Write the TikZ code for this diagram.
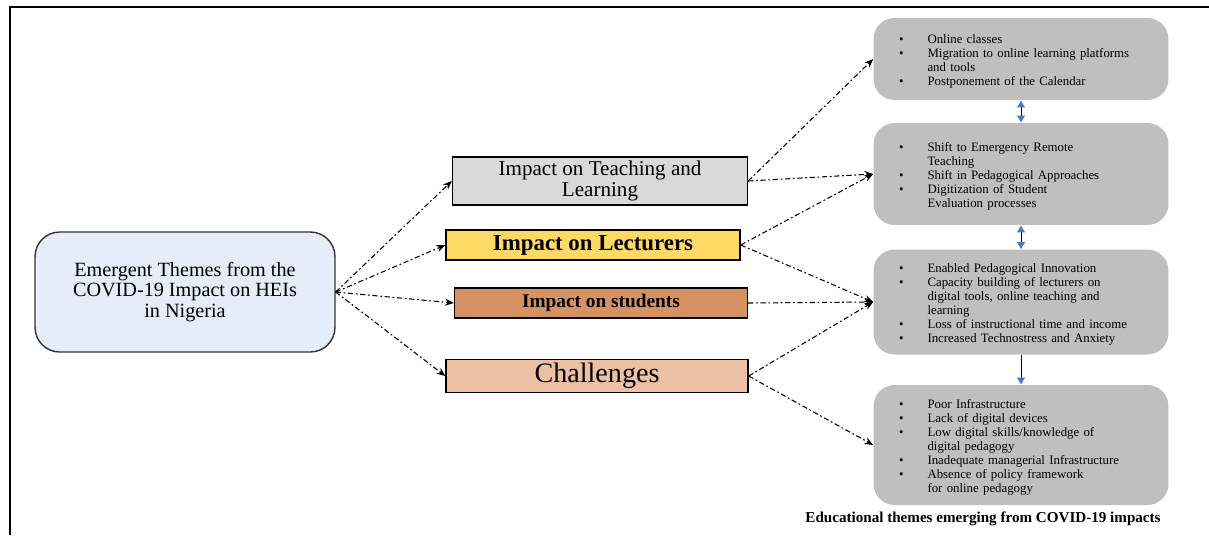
\documentclass[tikz,border=0pt]{standalone}
\usepackage{fontspec}
\setmainfont{Liberation Serif}
\usetikzlibrary{arrows.meta}
\definecolor{themeblue}{RGB}{229,237,248}
\definecolor{teachgrey}{RGB}{217,217,217}
\definecolor{lectyellow}{RGB}{255,217,102}
\definecolor{studbrown}{RGB}{214,146,98}
\definecolor{challpeach}{RGB}{236,193,163}
\definecolor{panelgrey}{RGB}{191,191,191}
\definecolor{tipblue}{RGB}{70,120,210}
\newcommand{\panelitems}[1]{\begin{list}{\textbullet}{\setlength{\leftmargin}{0.68cm}\setlength{\labelwidth}{0.2cm}\setlength{\labelsep}{0.48cm}\setlength{\itemsep}{0pt}\setlength{\parsep}{0pt}\setlength{\topsep}{0pt}\setlength{\partopsep}{0pt}}#1\end{list}}
\tikzset{
% Node styles: the theme box, the four bars and the grey panels
theme node/.style={draw=black!80,line width=0.8pt,rounded corners=14pt,fill=themeblue,minimum width=6cm,minimum height=2.4cm,align=center,font=\fontsize{11.5}{11.5}\selectfont},
bar node/.style={draw=black,line width=0.8pt,align=center,inner sep=1pt},
panel node/.style={rounded corners=12pt,fill=panelgrey,text width=5.1cm,inner xsep=0.4cm,align=left,font=\fontsize{7.3}{7.9}\selectfont},
% Connector styles: dashed links and short panel arrows
dash link/.style={line width=0.6pt,dash pattern=on 3pt off 1.5pt on 1pt off 1.5pt,-{Stealth[length=5pt,width=4pt]}},
panel tip/.tip={Latex[length=4pt,width=5pt,color=tipblue]},
panel link/.style={line width=0.5pt}
}
\begin{document}
\begin{tikzpicture}[x=0.02cm,y=-0.02cm]
\useasboundingbox (0,0) rectangle (1209,535);
\draw[line width=1pt] (10,535) -- (10,7) -- (1209,7);
% The theme box
\node(0)[theme node] at (185,292) {Emergent Themes from the\\COVID-19 Impact on HEIs\\in Nigeria};
% The four bars
\node(1)[bar node,fill=teachgrey,minimum width=5.9cm,minimum height=0.96cm,font=\fontsize{12}{11.5}\selectfont] at (600,181) {Impact on Teaching and\\Learning};
\node(2)[bar node,fill=lectyellow,minimum width=5.88cm,minimum height=0.6cm,font=\bfseries\fontsize{13}{14}\selectfont] at (593,245) {Impact on Lecturers};
\node(3)[bar node,fill=studbrown,minimum width=5.86cm,minimum height=0.6cm,font=\bfseries\fontsize{11}{12}\selectfont] at (601,303) {Impact on students};
\node(4)[bar node,fill=challpeach,minimum width=6.04cm,minimum height=0.66cm,font=\fontsize{16}{17}\selectfont] at (597,376) {Challenges};
% The grey panels
\node(5)[panel node,minimum height=1.64cm] at (1021,59) {\panelitems{
\item Online classes
\item Migration to online learning platforms\\and tools
\item Postponement of the Calendar}};
\node(6)[panel node,minimum height=2.04cm] at (1021,174) {\panelitems{
\item Shift to Emergency Remote\\Teaching
\item Shift in Pedagogical Approaches
\item Digitization of Student\\Evaluation processes}};
\node(7)[panel node,minimum height=2.1cm] at (1021,302) {\panelitems{
\item Enabled Pedagogical Innovation
\item Capacity building of lecturers on\\digital tools, online teaching and\\learning
\item Loss of instructional time and income
\item Increased Technostress and Anxiety}};
\node(8)[panel node,minimum height=2.4cm] at (1021,445) {\panelitems{
\item Poor Infrastructure
\item Lack of digital devices
\item Low digital skills/knowledge of\\digital pedagogy
\item Inadequate managerial Infrastructure
\item Absence of policy framework\\for online pedagogy}};
\node(9)[font=\bfseries\fontsize{8.6}{9}\selectfont] at (983,519) {Educational themes emerging from COVID-19 impacts};
% Links
\foreach \b in {1,2,3,4} \draw[dash link] (0.east) -- (\b.west);
\draw[dash link] (1.east) -- (5.west);
\draw[dash link] (1.east) -- (6.west);
\draw[dash link] (2.east) -- (6.west);
\draw[dash link] (2.east) -- (7.west);
\draw[dash link] (3.east) -- (7.west);
\draw[dash link] (4.east) -- (7.west);
\draw[dash link] (4.east) -- (8.west);
\draw[panel link,panel tip-panel tip] (5.south) -- (6.north);
\draw[panel link,panel tip-panel tip] (6.south) -- (7.north);
\draw[panel link,-panel tip] (7.south) -- (8.north);
\end{tikzpicture}
\end{document}
